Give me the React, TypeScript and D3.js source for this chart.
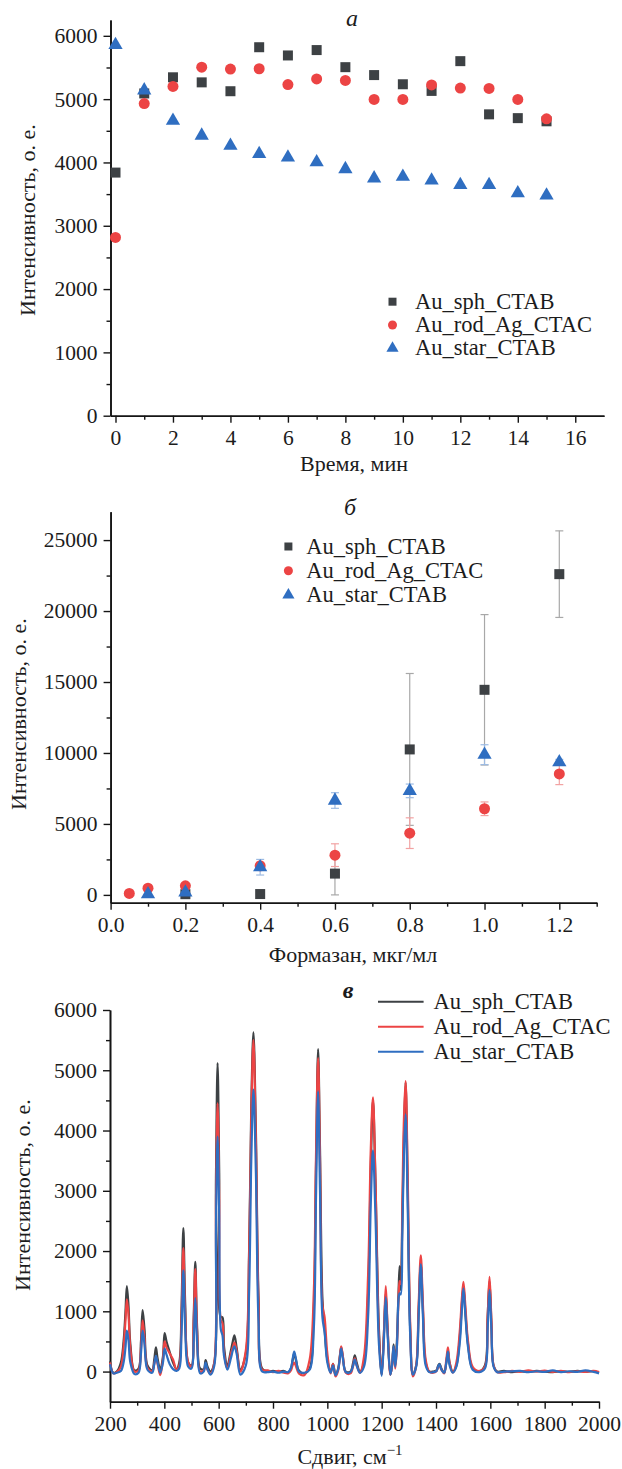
import React, { useRef, useEffect } from "react";
import * as d3 from "d3";

const FONT = "Liberation Serif";

const seriesNames = ["Au_sph_CTAB", "Au_rod_Ag_CTAC", "Au_star_CTAB"];
const colors = ["#3d4144", "#ec4444", "#2f6ec1"];
const errColors = ["#a8a8a8", "#f2a2a2", "#9dbbe3"];

// panel a: intensity vs time
const timeMin = [0, 1, 2, 3, 4, 5, 6, 7, 8, 9, 10, 11, 12, 13, 14, 15];
const sphTime = [3840, 5090, 5345, 5265, 5125, 5820, 5690, 5775, 5505, 5380, 5235, 5130, 5600, 4760, 4700, 4650];
const rodTime = [2815, 4930, 5200, 5505, 5475, 5480, 5230, 5320, 5295, 4995, 4995, 5225, 5175, 5170, 4995, 4690];
const starTime = [5855, 5140, 4660, 4425, 4265, 4135, 4080, 4005, 3895, 3750, 3775, 3715, 3645, 3645, 3515, 3480];

// panel b: intensity vs formazan concentration (value, error)
const sphConc = [0.2, 0.4, 0.6, 0.8, 1.0, 1.2];
const sphForm = [50, 60, 1500, 10250, 14450, 22600];
const sphFormErr = [0, 0, 1500, 5350, 5300, 3050];
const rodConc = [0.05, 0.1, 0.2, 0.4, 0.6, 0.8, 1.0, 1.2];
const rodForm = [100, 470, 640, 2050, 2800, 4350, 6070, 8520];
const rodFormErr = [0, 0, 0, 250, 800, 1080, 480, 750];
const starConc = [0.1, 0.2, 0.4, 0.6, 0.8, 1.0, 1.2];
const starForm = [50, 170, 1950, 6650, 7330, 9880, 9350];
const starFormErr = [0, 0, 550, 550, 480, 700, 200];

// panel c: Raman spectra
const shift = [
  200, 212, 225, 240, 250, 257, 262, 268, 275, 290,
  305, 314, 320, 327, 338, 355, 363, 369, 375, 385,
  395, 401, 408, 420, 432, 445, 455, 463, 470, 477, 488,
  500, 508, 514, 521, 532, 545, 552, 559, 570,
  584, 590, 596, 602, 608, 614, 620, 632, 645, 652, 658, 666, 680,
  700, 712, 720, 728, 737, 747, 760,
  780, 800, 820, 840, 855, 866, 872, 878, 885, 895, 915,
  935, 950, 958, 966, 973, 982, 990, 1000, 1012, 1021, 1030,
  1040, 1046, 1051, 1057, 1068, 1085, 1095, 1101, 1108, 1120,
  1135, 1150, 1160, 1168, 1177, 1190, 1200, 1208, 1215, 1222, 1232,
  1238, 1244, 1250, 1256, 1262, 1266, 1270, 1276, 1282, 1288, 1296, 1305, 1315,
  1327, 1336, 1344, 1352, 1362, 1375, 1390, 1402, 1408, 1413, 1420, 1430,
  1438, 1444, 1450, 1462, 1475, 1488, 1495, 1501, 1508, 1518, 1535,
  1560, 1580, 1590, 1597, 1604, 1612, 1625,
  1650, 1680, 1710, 1740, 1770, 1800, 1830, 1860, 1890, 1920, 1950, 1980, 2000,
];
const sphSpec = [
  170, -20, 0, 150, 500, 1000, 1420, 1100, 450, 20,
  50, 500, 1020, 700, 100, 20, 200, 400, 220, 30,
  250, 640, 500, 320, 150, 40, 150, 1000, 2380, 1100, 150,
  100, 900, 1820, 700, 50, 40, 190, 80, 0,
  150, 3200, 5120, 3300, 900, 900, 400, 100, 350, 500, 600, 400, 30,
  300, 2000, 4400, 5630, 4000, 1200, 50,
  0, 10, 0, 10, -20, 50, 180, 300, 180, 20, -30,
  50, 1000, 3300, 5350, 3700, 1200, 700, 200, 0, 130, -50,
  50, 250, 400, 250, 0, 0, 150, 270, 150, 0,
  150, 1300, 3400, 4500, 3200, 700, -50, 600, 1300, 700, -50,
  100, 450, 100, 500, 1300, 1750, 1350, 2500, 3900, 4800, 3000, 700, -50,
  100, 1000, 1800, 1000, 150, 0, 0, 20, 100, 130, 50, -20,
  150, 350, 150, 0, 100, 600, 1100, 1420, 1000, 450, 50,
  0, 100, 900, 1500, 800, 100, 0,
  10, -10, 5, -5, 10, 0, -10, 5, -5, 10, 0, 5, -20,
];
const rodSpec = [
  150, -30, -10, 80, 400, 850, 1200, 950, 380, 0,
  20, 380, 850, 550, 60, 0, 130, 250, 130, -60,
  200, 500, 400, 300, 200, 30, 100, 850, 2050, 900, 150,
  80, 800, 1700, 600, 0, 20, 100, 30, -40,
  150, 2800, 4450, 2900, 850, 800, 300, 50, 300, 400, 480, 350, 0,
  350, 1900, 4200, 5500, 3800, 1100, 30,
  20, -10, 10, -20, -30, 20, 100, 150, 80, -30, -60,
  200, 1300, 3500, 5200, 3500, 1100, 900, 300, -30, 130, -80,
  20, 250, 420, 260, -20, -30, 100, 220, 100, -20,
  250, 1600, 3700, 4550, 3200, 600, -50, 600, 1420, 700, -50,
  80, 400, 50, 400, 1200, 1500, 1450, 2800, 4200, 4820, 3200, 800, -80,
  100, 1100, 1930, 1100, 200, 0, -20, 10, 80, 100, 30, -30,
  200, 400, 150, -20, 150, 700, 1200, 1490, 1100, 500, 80,
  10, 80, 900, 1570, 850, 100, -10,
  -10, 10, -5, 20, 0, 15, -5, 10, -10, 5, -5, 10, -10,
];
const starSpec = [
  120, -30, -20, 10, 150, 400, 680, 520, 150, -40,
  -20, 300, 680, 450, 30, -20, 120, 260, 150, -20,
  150, 380, 280, 120, 40, 10, 50, 600, 1680, 700, 80,
  50, 500, 1220, 450, -30, 0, 150, 40, -50,
  100, 2400, 3900, 2600, 700, 600, 250, 30, 220, 350, 420, 300, -50,
  100, 1300, 3500, 4680, 3300, 800, 0,
  -10, 0, -20, 0, -10, 60, 200, 330, 200, 0, -20,
  30, 700, 2800, 4650, 3000, 900, 650, 150, -20, 100, -60,
  40, 220, 380, 220, -10, -10, 100, 200, 100, -20,
  80, 900, 2800, 3670, 2600, 450, -70, 500, 1230, 600, -50,
  100, 420, 80, 400, 1200, 1300, 1280, 2300, 3600, 4270, 2700, 600, -50,
  80, 900, 1780, 900, 100, -10, -10, 10, 90, 120, 30, -20,
  150, 330, 100, -20, 80, 500, 1000, 1380, 950, 400, 30,
  -10, 50, 700, 1350, 700, 80, -10,
  0, 5, 10, -10, 5, -5, 20, -10, 5, -5, 20, -5, -30,
];

const symbolTypes = [d3.symbolSquare, d3.symbolCircle, d3.symbolTriangle];
const symbolSizes = [100, 95, 88];

function drawAxes(g: any, x: any, y: any, o: any) {
  const yBase = y.range()[0];
  const xBase = x.range()[0];
  const bottom = g.append("g").attr("transform", `translate(0,${yBase})`);
  bottom.call(d3.axisBottom(x).tickValues(o.xMinor).tickSize(4).tickSizeOuter(0).tickFormat(() => ""));
  bottom.append("g").call(
    d3.axisBottom(x).tickValues(o.xMajor).tickSize(7).tickSizeOuter(0).tickPadding(7).tickFormat(o.xFmt)
  );
  const left = g.append("g").attr("transform", `translate(${xBase},0)`);
  left.call(d3.axisLeft(y).tickValues(o.yMinor).tickSize(4).tickSizeOuter(0).tickFormat(() => ""));
  left.append("g").call(
    d3.axisLeft(y).tickValues(o.yMajor).tickSize(7).tickSizeOuter(0).tickPadding(6).tickFormat(d3.format("d"))
  );
  g.selectAll(".domain").attr("stroke", "#151515").attr("stroke-width", 1.6);
  g.selectAll(".tick line").attr("stroke", "#151515").attr("stroke-width", 1.4);
  g.selectAll(".tick text").attr("font-size", 21.5).attr("font-family", FONT).attr("fill", "#1c1c1c");

  g.append("text")
    .attr("x", o.xLabelX).attr("y", o.xLabelY)
    .attr("text-anchor", "middle")
    .attr("font-size", 22).attr("font-family", FONT).attr("fill", "#1c1c1c")
    .html(o.xLabel);
  g.append("text")
    .attr("transform", `translate(${o.yLabelX},${o.yLabelY}) rotate(-90)`)
    .attr("text-anchor", "middle")
    .attr("font-size", 22).attr("font-family", FONT).attr("fill", "#1c1c1c")
    .text("Интенсивность, о. е.");
  g.append("text")
    .attr("x", o.titleX).attr("y", o.titleY)
    .attr("text-anchor", "middle")
    .attr("font-size", 24).attr("font-family", FONT).attr("font-style", "italic")
    .attr("font-weight", o.titleBold ? "bold" : "normal")
    .attr("fill", "#1c1c1c")
    .text(o.title);
}

function markerLegend(g: any, x: number, tx: number, y0: number, dy: number) {
  seriesNames.forEach((name, i) => {
    const y = y0 + i * dy;
    g.append("path")
      .attr("transform", `translate(${x},${y})`)
      .attr("d", d3.symbol().type(symbolTypes[i]).size(64)())
      .attr("fill", colors[i]);
    g.append("text")
      .attr("x", tx).attr("y", y + 7)
      .attr("font-size", 22.5).attr("font-family", FONT).attr("fill", "#1c1c1c")
      .text(name);
  });
}

export default function App() {
  const ref = useRef<SVGSVGElement>(null);

  useEffect(() => {
    const svg = d3.select(ref.current);
    svg.selectAll("*").remove();

    // ---------- panel a ----------
    const ga = svg.append("g");
    const xa = d3.scaleLinear().domain([-0.174, 17]).range([110.5, 604]);
    const ya = d3.scaleLinear().domain([0, 6250]).range([415.7, 20]);
    drawAxes(ga, xa, ya, {
      xMajor: d3.range(0, 17, 2), xMinor: d3.range(1, 17, 2), xFmt: d3.format("d"),
      yMajor: d3.range(0, 6001, 1000), yMinor: d3.range(500, 6001, 1000),
      xLabel: "Время, мин", xLabelX: 354, xLabelY: 471,
      yLabelX: 35, yLabelY: 220, title: "а", titleX: 352, titleY: 26,
    });
    [sphTime, rodTime, starTime].forEach((vals, i) => {
      ga.append("g").selectAll("path").data(vals).join("path")
        .attr("transform", (d, j) => `translate(${xa(timeMin[j])},${ya(d)})`)
        .attr("d", d3.symbol().type(symbolTypes[i]).size(symbolSizes[i])())
        .attr("fill", colors[i]);
    });
    markerLegend(ga, 392.5, 415, 301.7, 23.3);

    // ---------- panel b ----------
    const gb = svg.append("g");
    const xb = d3.scaleLinear().domain([0, 1.3]).range([110.6, 596.7]);
    const yb = d3.scaleLinear().domain([-550, 27000]).range([902.7, 511.7]);
    drawAxes(gb, xb, yb, {
      xMajor: d3.range(0, 1.21, 0.2), xMinor: d3.range(0.1, 1.31, 0.2), xFmt: d3.format(".1f"),
      yMajor: d3.range(0, 25001, 5000), yMinor: d3.range(2500, 27000, 5000),
      xLabel: "Формазан, мкг/мл", xLabelX: 353, xLabelY: 962,
      yLabelX: 25.5, yLabelY: 714, title: "б", titleX: 350, titleY: 515,
    });
    const bSeries = [
      [sphConc, sphForm, sphFormErr],
      [rodConc, rodForm, rodFormErr],
      [starConc, starForm, starFormErr],
    ];
    bSeries.forEach(([cx, vals, errs], i) => {
      const eg = gb.append("g").attr("stroke", errColors[i]).attr("stroke-width", 1.2);
      vals.forEach((v, j) => {
        if (!errs[j]) return;
        const px = xb(cx[j]);
        eg.append("line").attr("x1", px).attr("x2", px).attr("y1", yb(v - errs[j])).attr("y2", yb(v + errs[j]));
        [v - errs[j], v + errs[j]].forEach((e) =>
          eg.append("line").attr("x1", px - 4).attr("x2", px + 4).attr("y1", yb(e)).attr("y2", yb(e))
        );
      });
    });
    bSeries.forEach(([cx, vals], i) => {
      gb.append("g").selectAll("path").data(vals).join("path")
        .attr("transform", (d, j) => `translate(${xb(cx[j])},${yb(d)})`)
        .attr("d", d3.symbol().type(symbolTypes[i]).size(symbolSizes[i])())
        .attr("fill", colors[i]);
    });
    markerLegend(gb, 288.4, 306.3, 546.5, 24.2);

    // ---------- panel c ----------
    const gc = svg.append("g");
    const xc = d3.scaleLinear().domain([200, 2000]).range([110, 599]);
    const yc = d3.scaleLinear().domain([-500, 6000]).range([1401.7, 1010]);
    drawAxes(gc, xc, yc, {
      xMajor: d3.range(200, 2001, 200), xMinor: d3.range(300, 2000, 200), xFmt: d3.format("d"),
      yMajor: d3.range(0, 6001, 1000), yMinor: d3.range(500, 6000, 1000),
      xLabel: "Сдвиг, см<tspan dy='-9' font-size='15'>−1</tspan>", xLabelX: 350, xLabelY: 1464,
      yLabelX: 29.5, yLabelY: 1195, title: "в", titleX: 348, titleY: 998, titleBold: true,
    });
    const line = d3.line<number>()
      .x((d, j) => xc(shift[j]))
      .y((d) => yc(d))
      .curve(d3.curveCatmullRom.alpha(0.5));
    [sphSpec, rodSpec, starSpec].forEach((vals, i) => {
      gc.append("path")
        .attr("d", line(vals))
        .attr("fill", "none")
        .attr("stroke", colors[i])
        .attr("stroke-width", 2.2)
        .attr("stroke-linejoin", "round");
    });
    seriesNames.forEach((name, i) => {
      const y = 1001.7 + i * 25;
      gc.append("line")
        .attr("x1", 378).attr("x2", 423.6).attr("y1", y).attr("y2", y)
        .attr("stroke", colors[i]).attr("stroke-width", 2);
      gc.append("text")
        .attr("x", 433.6).attr("y", y + 7)
        .attr("font-size", 22.5).attr("font-family", FONT).attr("fill", "#1c1c1c")
        .text(name);
    });
  }, []);

  return (
    <svg
      ref={ref}
      width={622}
      height={1469}
      style={{ position: "absolute", left: 0, top: 0, background: "#fff" }}
    />
  );
}
